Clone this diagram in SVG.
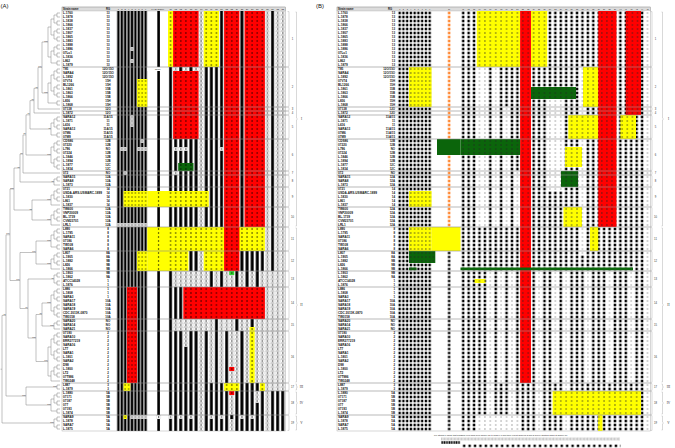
<svg xmlns="http://www.w3.org/2000/svg" width="675" height="448" viewBox="0 0 675 448">
<style>
.nm{font-family:"Liberation Sans",Arial,sans-serif;font-size:3.1px;font-weight:bold;fill:#111}
.rg{font-family:"Liberation Sans",Arial,sans-serif;font-size:2.9px;font-weight:bold;fill:#111}
.hd{font-family:"Liberation Sans",Arial,sans-serif;font-size:2.7px;font-weight:bold;fill:#111}
.hn{font-family:"Liberation Sans",Arial,sans-serif;font-size:2.2px;fill:#111}
.hb{font-family:"Liberation Sans",Arial,sans-serif;font-size:1.9px;fill:#111}
.bs{font-family:"Liberation Sans",Arial,sans-serif;font-size:2px;fill:#333}
.lb{font-family:"Liberation Sans",Arial,sans-serif;font-size:2.7px;fill:#333}
.rm{font-family:"Liberation Serif",serif;font-size:3.4px;fill:#333}
.pl{font-family:"Liberation Sans",Arial,sans-serif;font-size:6px;fill:#111}
.ft{font-family:"Liberation Sans",Arial,sans-serif;font-size:2.2px;fill:#222}
.tree{fill:none;stroke:#777;stroke-width:0.45}
.sep{fill:none;stroke:#8a8a8a;stroke-width:0.6}
.brk{fill:none;stroke:#aaa;stroke-width:0.45}
.hdr{fill:#dcdcdc;stroke:#999;stroke-width:0.3}
.bdr{fill:none;stroke:#999;stroke-width:0.4}
</style>
<defs>
<pattern id="a1" x="116.7" y="11" width="3.4" height="4" patternUnits="userSpaceOnUse"><rect x="0.5" width="2.4" height="4"/></pattern>
<pattern id="a2" x="168" y="11" width="5.1" height="4" patternUnits="userSpaceOnUse"><rect x="1.1" width="2.9" height="4"/></pattern>
<pattern id="w1" x="116.7" y="11" width="3.4" height="4" patternUnits="userSpaceOnUse"><rect x="0.2" y="0.2" width="3" height="3.6" fill="#fff" stroke="#c4c4c4" stroke-width="0.3"/><rect x="1.2" y="1.5" width="1" height="1"/></pattern>
<pattern id="w2" x="168" y="11" width="5.1" height="4" patternUnits="userSpaceOnUse"><rect x="0.2" y="0.2" width="4.7" height="3.6" fill="#fff" stroke="#c4c4c4" stroke-width="0.3"/><rect x="2" y="1.4" width="1.1" height="1.2"/></pattern>
<pattern id="r1" x="116.7" y="11" width="3.4" height="4" patternUnits="userSpaceOnUse"><rect width="3.4" height="4" fill="#f00"/><rect x="1.2" y="1.5" width="1" height="1"/></pattern>
<pattern id="y1" x="116.7" y="11" width="3.4" height="4" patternUnits="userSpaceOnUse"><rect width="3.4" height="4" fill="#ff0"/><rect x="1.2" y="1.5" width="1" height="1"/></pattern>
<pattern id="r2" x="168" y="11" width="5.1" height="4" patternUnits="userSpaceOnUse"><rect width="5.1" height="4" fill="#f00"/><rect x="2" y="1.4" width="1.1" height="1.2"/></pattern>
<pattern id="y2" x="168" y="11" width="5.1" height="4" patternUnits="userSpaceOnUse"><rect width="5.1" height="4" fill="#ff0"/><rect x="2" y="1.4" width="1.1" height="1.2"/></pattern>
<pattern id="g2" x="168" y="11" width="5.1" height="4" patternUnits="userSpaceOnUse"><rect width="5.1" height="4" fill="#0b650b"/><rect x="2" y="1.4" width="1.1" height="1.2"/></pattern>
<pattern id="g2b" x="168" y="11" width="5.1" height="4" patternUnits="userSpaceOnUse"><rect width="5.1" height="4" fill="#33d633"/><rect x="2" y="1.4" width="1.1" height="1.2"/></pattern>
<pattern id="d74" x="147.3" y="11" width="20.7" height="4" patternUnits="userSpaceOnUse"><rect x="10.75" y="1.4" width="1.1" height="1.2"/></pattern>
<pattern id="b1" x="397.8" y="11" width="3.75" height="4" patternUnits="userSpaceOnUse"><rect x="0.7" y="0.7" width="2.3" height="2.6"/></pattern>
<pattern id="bo" x="447.6" y="11" width="3" height="4" patternUnits="userSpaceOnUse"><rect x="0.5" y="0.7" width="2" height="2.6" fill="#ff6a00"/></pattern>
<pattern id="bk" x="447.6" y="11" width="3" height="4" patternUnits="userSpaceOnUse"><rect x="0.4" y="0.7" width="2.2" height="2.6"/></pattern>
<pattern id="b2" x="460.5" y="11" width="5.42" height="4" patternUnits="userSpaceOnUse"><rect x="1.5" y="0.7" width="2.4" height="2.6"/></pattern>
<pattern id="bd" x="460.5" y="11" width="5.42" height="4" patternUnits="userSpaceOnUse"><rect width="5.42" height="4" fill="#fff"/><rect x="2.3" y="1.6" width="0.8" height="0.8"/></pattern>
<pattern id="rB" x="460.5" y="11" width="5.42" height="4" patternUnits="userSpaceOnUse"><rect width="5.42" height="4" fill="#f00"/><rect x="2.2" y="1.4" width="1" height="1.2" fill="#222"/></pattern>
<pattern id="yB" x="460.5" y="11" width="5.42" height="4" patternUnits="userSpaceOnUse"><rect width="5.42" height="4" fill="#ff0"/><rect x="2.2" y="1.4" width="1" height="1.2" fill="#222"/></pattern>
<pattern id="gB" x="460.5" y="11" width="5.42" height="4" patternUnits="userSpaceOnUse"><rect width="5.42" height="4" fill="#0b650b"/><rect x="2.2" y="1.4" width="1" height="1.2" fill="#222"/></pattern>
<pattern id="rBb" x="599.3" y="11" width="5.1" height="4" patternUnits="userSpaceOnUse"><rect width="5.1" height="4" fill="#f00"/><rect x="2" y="1.4" width="1" height="1.2" fill="#222"/></pattern>
<pattern id="yBb" x="599.3" y="11" width="5.1" height="4" patternUnits="userSpaceOnUse"><rect width="5.1" height="4" fill="#ff0"/><rect x="2" y="1.4" width="1" height="1.2" fill="#222"/></pattern>
<pattern id="yB1" x="397.8" y="11" width="3.75" height="4" patternUnits="userSpaceOnUse"><rect width="3.75" height="4" fill="#ff0"/><rect x="1.3" y="1.4" width="1" height="1.2" fill="#222"/></pattern>
<pattern id="gB1" x="397.8" y="11" width="3.75" height="4" patternUnits="userSpaceOnUse"><rect width="3.75" height="4" fill="#0b650b"/><rect x="1.3" y="1.4" width="1" height="1.2" fill="#222"/></pattern>
<pattern id="lgg" x="441" y="437.6" width="3.4" height="2.8" patternUnits="userSpaceOnUse"><rect x="0.15" y="0.15" width="3.1" height="2.5" fill="#eee" stroke="#999" stroke-width="0.3"/></pattern>
<pattern id="lgd" x="441" y="441.2" width="2.4" height="2.6" patternUnits="userSpaceOnUse"><rect x="0.4" width="1.6" height="2.6"/></pattern>
<pattern id="lgs" x="461.5" y="444.6" width="5.42" height="2.6" patternUnits="userSpaceOnUse"><rect x="1.5" width="2.4" height="2.4"/></pattern>
</defs>
<rect width="675" height="448" fill="#fff"/>
<text class="pl" x="0.5" y="7.5">(A)</text>
<text class="pl" x="316" y="7.5">(B)</text>

<g id="tree" class="tree">
<path d="M60 13H57V17H60M60 21H57V25H60M60 29H57V33H60M60 37H57V41H60M60 45H57V49H60M60 53H57V57H60M60 61H57V65H60M57 15H54V23H57M57 31H54V39H57M57 47H54V55H57M54 19H51V35H54M54 51H51V63H57M51 27H48V57H51"/>
<path d="M60 69H57V73H60M60 77H57V81H60M60 85H57V89H60M60 93H57V97H60M60 101H57V105H60M57 71H54V79H57M57 87H54V95H57M54 75H51V91H54M51 83H48V103H57"/>
<path d="M60 117H57V121H60M60 125H57V129H60M60 133H57V137H60M57 119H54V127H57M54 123H51V135H57"/>
<path d="M60 141H57V145H60M60 149H57V153H60M60 157H57V161H60M60 165H57V169H60M57 143H54V151H57M57 159H54V167H57M54 147H51V163H54"/>
<path d="M60 177H57V181H60M57 179H54V185H60"/>
<path d="M60 189H57V193H60M60 197H57V201H60M57 191H54V199H57M54 195H51V205H60"/>
<path d="M60 209H57V213H60M60 217H57V221H60M57 211H54V219H57M54 215H51V225H60"/>
<path d="M60 229H57V233H60M60 237H57V241H60M60 245H57V249H60M57 231H54V239H57M54 235H51V247H57"/>
<path d="M60 253H57V257H60M60 261H57V265H60M57 255H54V263H57M54 259H51V269H60"/>
<path d="M60 273H57V277H60M60 281H57V285H60M57 275H54V283H57"/>
<path d="M60 289H57V293H60M60 297H57V301H60M60 305H57V309H60M60 313H57V317H60M57 291H54V299H57M57 307H54V315H57M54 295H51V311H54"/>
<path d="M60 321H57V325H60M57 323H54V329H60"/>
<path d="M60 333H57V337H60M60 341H57V345H60M60 349H57V353H60M60 357H57V361H60M60 365H57V369H60M60 373H57V377H60M57 335H54V343H57M57 351H54V359H57M57 367H54V375H57M54 339H51V355H54M54 371H51V381H60M51 347H48V376H51"/>
<path d="M60 385H57V389H60"/>
<path d="M60 393H57V397H60M60 401H57V405H60M60 409H57V413H60M57 395H54V403H57M54 399H51V411H57"/>
<path d="M60 417H57V421H60M60 425H57V429H60M57 419H54V427H57"/>
<path d="M48 42H42V93H48M42 67.5H38V109H60M38 88.25H34V113H60M34 100.6H30V129H51M30 114.8H26V155H51M26 134.9H23V173H60M23 154H20V182H54M51 200H32V220H51M20 168H14V210H32"/>
<path d="M51 241H36V264H51M51 303H42V326H54M42 314.5H36V361.5H48M54 279H28V338H36M36 252.5H20V308.5H28"/>
<path d="M14 189H10V280.5H20M57 387H26V405H51M10 234.75H6V396H26M6 315.4H2V423H54M2 369.2H0.5"/>
</g>
<text class="bs" text-anchor="end"><tspan x="47.7" y="41.5">100</tspan><tspan x="47.7" y="92.5">100</tspan><tspan x="50.7" y="128.5">99</tspan><tspan x="50.7" y="154.5">100</tspan><tspan x="53.7" y="181.5">93</tspan><tspan x="50.7" y="199.5">100</tspan><tspan x="50.7" y="219.5">100</tspan><tspan x="50.7" y="240.5">100</tspan><tspan x="50.7" y="263.5">100</tspan><tspan x="53.7" y="278.5">97</tspan><tspan x="50.7" y="302.5">100</tspan><tspan x="53.7" y="325.5">100</tspan><tspan x="47.7" y="361">100</tspan><tspan x="56.7" y="386.5">100</tspan><tspan x="50.7" y="404.5">100</tspan><tspan x="53.7" y="422.5">100</tspan><tspan x="41.7" y="67">100</tspan><tspan x="37.7" y="87.8">76</tspan><tspan x="33.7" y="100.1">98</tspan><tspan x="29.7" y="114.3">71</tspan><tspan x="25.7" y="134.4">81</tspan><tspan x="22.7" y="153.5">64</tspan><tspan x="19.7" y="167.5">99</tspan><tspan x="31.7" y="209.5">92</tspan><tspan x="13.7" y="188.5">100</tspan><tspan x="35.7" y="252">100</tspan><tspan x="41.7" y="314">98</tspan><tspan x="35.7" y="337.5">100</tspan><tspan x="27.7" y="308">84</tspan><tspan x="19.7" y="280">100</tspan><tspan x="9.7" y="234.3">100</tspan><tspan x="25.7" y="395.5">100</tspan><tspan x="5.7" y="315">71</tspan></text>

<g id="tableA">
<rect class="hdr" x="62" y="7" width="223.5" height="4"/>
<rect x="116.7" y="11" width="30.6" height="420" fill="url(#a1)"/>
<rect x="157.3" y="11" width="2.6" height="420"/>
<rect x="168" y="11" width="117.3" height="420" fill="url(#a2)"/>
<path fill="url(#w2)" d="M198.6 11h5.1v420h-5.1zM264.9 11h5.1v420h-5.1zM275.1 11h10.2v380h-10.2zM270 271h5.1v120h-5.1zM173.1 67h5.1v4h-5.1zM183.3 67h5.1v4h-5.1zM193.5 67h5.1v4h-5.1zM173.1 147h15.3v4h-15.3zM219 147h5.1v4h-5.1zM173.1 171h5.1v4h-5.1zM173.1 271h35.7v16h-35.7zM213.9 271h5.1v16h-5.1zM224.1 271h10.2v16h-10.2zM239.4 271h5.1v16h-5.1zM249.6 271h5.1v16h-5.1zM259.8 271h5.1v16h-5.1zM173.1 319h40.8v12h-40.8zM219 319h15.3v12h-15.3zM239.4 319h10.2v12h-10.2zM254.7 319h10.2v12h-10.2zM183.3 331h5.1v16h-5.1zM208.8 331h5.1v52h-5.1zM219 331h5.1v52h-5.1zM229.2 331h10.2v52h-10.2zM244.5 331h5.1v52h-5.1zM254.7 331h10.2v52h-10.2zM229.2 395h5.1v20h-5.1zM254.7 391h5.1v12h-5.1zM168 415h5.1v4h-5.1zM178.2 415h5.1v4h-5.1zM188.4 415h5.1v4h-5.1zM208.8 415h5.1v4h-5.1zM219 415h5.1v4h-5.1zM239.4 415h5.1v4h-5.1zM249.6 415h5.1v4h-5.1zM229.2 419h5.1v12h-5.1z"/>
<path fill="url(#w1)" d="M130.3 47h3.4v4h-3.4zM130.3 59h3.4v4h-3.4zM130.3 115h3.4v12h-3.4zM140.5 139h3.4v4h-3.4zM120.1 147h6.8v4h-6.8zM137.1 147h10.2v4h-10.2zM123.5 171h3.4v4h-3.4zM116.7 223h30.6v4h-30.6zM130.3 415h17v4h-17z"/>
<rect x="147.3" y="67" width="20.7" height="4" fill="#fff"/>
<text class="hn" x="157.7" y="70" text-anchor="middle">52 bp</text>
<rect x="147.3" y="415" width="20.7" height="4" fill="#fff"/>
<rect x="156.2" y="415.2" width="4.7" height="3.6" fill="#fff" stroke="#c4c4c4" stroke-width="0.3"/><rect x="158.1" y="416.4" width="1.1" height="1.2"/>
<path fill="url(#y2)" d="M168 11h5.1v56h-5.1zM203.7 11h15.3v56h-15.3zM168 191h40.8v16h-40.8zM168 227h96.9v24h-96.9zM168 251h20.4v20h-20.4zM203.7 251h20.4v20h-20.4zM249.6 327h5.1v56h-5.1zM224.1 383h15.3v8h-15.3zM259.8 383h5.1v8h-5.1z"/>
<path fill="url(#y1)" d="M137.1 79h10.2v28h-10.2zM123.5 191h23.8v16h-23.8zM137.1 251h10.2v20h-10.2zM123.5 383h6.8v8h-6.8zM123.5 415h3.4v4h-3.4z"/>
<path fill="#ff0" d="M147.3 191h20.7v16h-20.7zM147.3 227h20.7v44h-20.7z"/>
<path fill="url(#d74)" d="M147.3 191h20.7v16h-20.7zM147.3 227h20.7v44h-20.7z"/>
<path fill="url(#r2)" d="M173.1 11h25.5v56h-25.5zM173.1 71h25.5v68h-25.5zM224.1 11h15.3v260h-15.3zM244.5 11h20.4v216h-20.4zM183.3 287h81.6v32h-81.6zM229.2 367h5.1v4h-5.1zM229.2 391h5.1v4h-5.1z"/>
<path fill="url(#r1)" d="M126.9 287h10.2v96h-10.2z"/>
<path fill="url(#g2)" d="M178.2 163h15.3v8h-15.3z"/>
<path fill="url(#g2b)" d="M229.2 271h5.1v4h-5.1z"/>
<path class="sep" d="M62 67H287.5M62 107H287.5M62 111H287.5M62 115H287.5M62 139H287.5M62 171H287.5M62 175H287.5M62 187H287.5M62 207H287.5M62 227H287.5M62 251H287.5M62 271H287.5M62 287H287.5M62 319H287.5M62 331H287.5M62 383H287.5M62 391H287.5M62 415H287.5"/>
<rect class="bdr" x="62" y="7" width="223.5" height="424"/>
<text class="hd" x="63" y="10.1">Strain name</text>
<text class="hd" x="108" y="10.1" text-anchor="middle">RG</text>
<text class="hn" y="10.1" text-anchor="middle"><tspan x="118.4">1</tspan><tspan x="121.8">2</tspan><tspan x="125.2">3</tspan><tspan x="128.6">4</tspan><tspan x="132">5</tspan><tspan x="135.4">6</tspan><tspan x="138.8">7</tspan><tspan x="142.2">8</tspan><tspan x="145.6">9</tspan><tspan x="157.7">74 bp spacer</tspan><tspan x="170.55">11</tspan><tspan x="175.65">12</tspan><tspan x="180.75">13</tspan><tspan x="185.85">14</tspan><tspan x="190.95">15</tspan><tspan x="196.05">16</tspan><tspan x="201.15">17</tspan><tspan x="206.25">18</tspan><tspan x="211.35">19</tspan><tspan x="216.45">20</tspan><tspan x="221.55">21</tspan><tspan x="226.65">22</tspan><tspan x="231.75">23</tspan><tspan x="236.85">24</tspan><tspan x="241.95">25</tspan><tspan x="247.05">26</tspan><tspan x="252.15">27</tspan><tspan x="257.25">28</tspan><tspan x="262.35">29</tspan><tspan x="267.45">30</tspan><tspan x="272.55">31</tspan><tspan x="277.65">32</tspan><tspan x="282.75">33</tspan></text>
<text class="nm"><tspan x="63" y="14.2">L.1760</tspan><tspan x="63" dy="4">L.1878</tspan><tspan x="63" dy="4">L.1838</tspan><tspan x="63" dy="4">L.1866</tspan><tspan x="63" dy="4">L.1837</tspan><tspan x="63" dy="4">L.1907</tspan><tspan x="63" dy="4">L.1865</tspan><tspan x="63" dy="4">L.1883</tspan><tspan x="63" dy="4">L.1888</tspan><tspan x="63" dy="4">L.1886</tspan><tspan x="63" dy="4">07Lu1</tspan><tspan x="63" dy="4">L.1836</tspan><tspan x="63" dy="4">L862</tspan><tspan x="63" dy="4">L.1879</tspan><tspan x="63" dy="4">T85</tspan><tspan x="63" dy="4">SARA4</tspan><tspan x="63" dy="4">L.1892</tspan><tspan x="63" dy="4">07V74</tspan><tspan x="63" dy="4">BL1266</tspan><tspan x="63" dy="4">L.1861</tspan><tspan x="63" dy="4">L.1863</tspan><tspan x="63" dy="4">L.1866</tspan><tspan x="63" dy="4">L836</tspan><tspan x="63" dy="4">L.1868</tspan><tspan x="63" dy="4">07138</tspan><tspan x="63" dy="4">L.1872</tspan><tspan x="63" dy="4">SARA12</tspan><tspan x="63" dy="4">L.1871</tspan><tspan x="63" dy="4">L616</tspan><tspan x="63" dy="4">SARA13</tspan><tspan x="63" dy="4">07M6</tspan><tspan x="63" dy="4">07M9</tspan><tspan x="63" dy="4">CDS86</tspan><tspan x="63" dy="4">07220</tspan><tspan x="63" dy="4">L796</tspan><tspan x="63" dy="4">07224</tspan><tspan x="63" dy="4">L.1846</tspan><tspan x="63" dy="4">L.1894</tspan><tspan x="63" dy="4">L.1877</tspan><tspan x="63" dy="4">L.1834</tspan><tspan x="63" dy="4">072</tspan><tspan x="63" dy="4">SARA15</tspan><tspan x="63" dy="4">SARA8</tspan><tspan x="63" dy="4">L.1873</tspan><tspan x="63" dy="4">0721</tspan><tspan x="63" dy="4">USDA-ARS-USMARC-1899</tspan><tspan x="63" dy="4">L.1830</tspan><tspan x="63" dy="4">L861</tspan><tspan x="63" dy="4">L.1837</tspan><tspan x="63" dy="4">TW600</tspan><tspan x="63" dy="4">VNP20009</tspan><tspan x="63" dy="4">BL-1739</tspan><tspan x="63" dy="4">CVM23701</tspan><tspan x="63" dy="4">LRL1</tspan><tspan x="63" dy="4">L890</tspan><tspan x="63" dy="4">L.1795</tspan><tspan x="63" dy="4">SARA11</tspan><tspan x="63" dy="4">07186</tspan><tspan x="63" dy="4">TW108</tspan><tspan x="63" dy="4">SARA6</tspan><tspan x="63" dy="4">L807</tspan><tspan x="63" dy="4">L.1905</tspan><tspan x="63" dy="4">L.1882</tspan><tspan x="63" dy="4">L826</tspan><tspan x="63" dy="4">L.1866</tspan><tspan x="63" dy="4">L.1903</tspan><tspan x="63" dy="4">L.1862</tspan><tspan x="63" dy="4">ATCC14028</tspan><tspan x="63" dy="4">L.1876</tspan><tspan x="63" dy="4">L886</tspan><tspan x="63" dy="4">L.1808</tspan><tspan x="63" dy="4">SARA3</tspan><tspan x="63" dy="4">SARA17</tspan><tspan x="63" dy="4">SARA18</tspan><tspan x="63" dy="4">SARA19</tspan><tspan x="63" dy="4">CDC 2011K-0870</tspan><tspan x="63" dy="4">TW0158</tspan><tspan x="63" dy="4">SARA20</tspan><tspan x="63" dy="4">SARA14</tspan><tspan x="63" dy="4">SARA21</tspan><tspan x="63" dy="4">07190</tspan><tspan x="63" dy="4">SARA10</tspan><tspan x="63" dy="4">ERR277219</tspan><tspan x="63" dy="4">SARA16</tspan><tspan x="63" dy="4">LT7</tspan><tspan x="63" dy="4">SARA1</tspan><tspan x="63" dy="4">L.1801</tspan><tspan x="63" dy="4">SARA2</tspan><tspan x="63" dy="4">D98</tspan><tspan x="63" dy="4">L.1800</tspan><tspan x="63" dy="4">LT2</tspan><tspan x="63" dy="4">07T986</tspan><tspan x="63" dy="4">TW0248</tspan><tspan x="63" dy="4">L887</tspan><tspan x="63" dy="4">L.1879</tspan><tspan x="63" dy="4">L.1880</tspan><tspan x="63" dy="4">07171</tspan><tspan x="63" dy="4">07187</tspan><tspan x="63" dy="4">077</tspan><tspan x="63" dy="4">07193</tspan><tspan x="63" dy="4">L.1874</tspan><tspan x="63" dy="4">SARA9</tspan><tspan x="63" dy="4">L.1878</tspan><tspan x="63" dy="4">SARA7</tspan><tspan x="63" dy="4">L.1875</tspan></text>
<text class="rg" text-anchor="middle"><tspan x="108" y="14.2">13</tspan><tspan x="108" dy="4">13</tspan><tspan x="108" dy="4">13</tspan><tspan x="108" dy="4">13</tspan><tspan x="108" dy="4">13</tspan><tspan x="108" dy="4">13</tspan><tspan x="108" dy="4">13</tspan><tspan x="108" dy="4">13</tspan><tspan x="108" dy="4">13</tspan><tspan x="108" dy="4">13</tspan><tspan x="108" dy="4">13</tspan><tspan x="108" dy="4">13</tspan><tspan x="108" dy="4">13</tspan><tspan x="108" dy="4">13</tspan><tspan x="108" dy="4">12O/15O</tspan><tspan x="108" dy="4">12O/15O</tspan><tspan x="108" dy="4">12O/15O</tspan><tspan x="108" dy="4">15H</tspan><tspan x="108" dy="4">15H</tspan><tspan x="108" dy="4">15B</tspan><tspan x="108" dy="4">15B</tspan><tspan x="108" dy="4">15B</tspan><tspan x="108" dy="4">15H</tspan><tspan x="108" dy="4">15H</tspan><tspan x="108" dy="4">12O</tspan><tspan x="108" dy="4">12O</tspan><tspan x="108" dy="4">11A/15</tspan><tspan x="108" dy="4">11</tspan><tspan x="108" dy="4">11</tspan><tspan x="108" dy="4">11A/15</tspan><tspan x="108" dy="4">11A/15</tspan><tspan x="108" dy="4">11A/15</tspan><tspan x="108" dy="4">12B</tspan><tspan x="108" dy="4">12B</tspan><tspan x="108" dy="4">NO</tspan><tspan x="108" dy="4">12B</tspan><tspan x="108" dy="4">12B</tspan><tspan x="108" dy="4">12B</tspan><tspan x="108" dy="4">12C</tspan><tspan x="108" dy="4">12C</tspan><tspan x="108" dy="4">NO</tspan><tspan x="108" dy="4">12A</tspan><tspan x="108" dy="4">12A</tspan><tspan x="108" dy="4">12A</tspan><tspan x="108" dy="4">14</tspan><tspan x="108" dy="4">14</tspan><tspan x="108" dy="4">14</tspan><tspan x="108" dy="4">14</tspan><tspan x="108" dy="4">14</tspan><tspan x="108" dy="4">12A</tspan><tspan x="108" dy="4">12A</tspan><tspan x="108" dy="4">12A</tspan><tspan x="108" dy="4">12A</tspan><tspan x="108" dy="4">12A</tspan><tspan x="108" dy="4">8</tspan><tspan x="108" dy="4">8</tspan><tspan x="108" dy="4">8</tspan><tspan x="108" dy="4">8</tspan><tspan x="108" dy="4">8</tspan><tspan x="108" dy="4">8</tspan><tspan x="108" dy="4">8A</tspan><tspan x="108" dy="4">8A</tspan><tspan x="108" dy="4">9B</tspan><tspan x="108" dy="4">9B</tspan><tspan x="108" dy="4">9B</tspan><tspan x="108" dy="4">9B</tspan><tspan x="108" dy="4">9A</tspan><tspan x="108" dy="4">1</tspan><tspan x="108" dy="4">1</tspan><tspan x="108" dy="4">1</tspan><tspan x="108" dy="4">1</tspan><tspan x="108" dy="4">1</tspan><tspan x="108" dy="4">10A</tspan><tspan x="108" dy="4">10A</tspan><tspan x="108" dy="4">10A</tspan><tspan x="108" dy="4">10A</tspan><tspan x="108" dy="4">10A</tspan><tspan x="108" dy="4">NO</tspan><tspan x="108" dy="4">NO</tspan><tspan x="108" dy="4">NO</tspan><tspan x="108" dy="4">2</tspan><tspan x="108" dy="4">2</tspan><tspan x="108" dy="4">2</tspan><tspan x="108" dy="4">2</tspan><tspan x="108" dy="4">2</tspan><tspan x="108" dy="4">2</tspan><tspan x="108" dy="4">2</tspan><tspan x="108" dy="4">2</tspan><tspan x="108" dy="4">2</tspan><tspan x="108" dy="4">2</tspan><tspan x="108" dy="4">2</tspan><tspan x="108" dy="4">2</tspan><tspan x="108" dy="4">2</tspan><tspan x="108" dy="4">3</tspan><tspan x="108" dy="4">3</tspan><tspan x="108" dy="4">5A</tspan><tspan x="108" dy="4">5B</tspan><tspan x="108" dy="4">5B</tspan><tspan x="108" dy="4">5B</tspan><tspan x="108" dy="4">5B</tspan><tspan x="108" dy="4">5B</tspan><tspan x="108" dy="4">5A</tspan><tspan x="108" dy="4">5A</tspan><tspan x="108" dy="4">5A</tspan><tspan x="108" dy="4">5A</tspan></text>
</g>

<g id="bracketsA">
<path class="brk" d="M287.5 11.6H289V66.4H287.5M287.5 67.6H289V106.4H287.5M287.5 107.6H289V110.4H287.5M287.5 111.6H289V114.4H287.5M287.5 115.6H289V138.4H287.5M287.5 139.6H289V170.4H287.5M287.5 171.6H289V174.4H287.5M287.5 175.6H289V186.4H287.5M287.5 187.6H289V206.4H287.5M287.5 207.6H289V226.4H287.5M287.5 227.6H289V250.4H287.5M287.5 251.6H289V270.4H287.5M287.5 271.6H289V286.4H287.5M287.5 287.6H289V318.4H287.5M287.5 319.6H289V330.4H287.5M287.5 331.6H289V382.4H287.5M287.5 383.6H289V390.4H287.5M287.5 391.6H289V414.4H287.5M287.5 415.6H289V430.4H287.5"/>
<text class="lb" text-anchor="middle"><tspan x="292.5" y="39.9">1</tspan><tspan x="292.5" y="87.9">2</tspan><tspan x="292.5" y="109.9">3</tspan><tspan x="292.5" y="113.9">4</tspan><tspan x="292.5" y="127.9">5</tspan><tspan x="292.5" y="155.9">6</tspan><tspan x="292.5" y="173.9">7</tspan><tspan x="292.5" y="181.9">8</tspan><tspan x="292.5" y="197.9">9</tspan><tspan x="292.5" y="217.9">10</tspan><tspan x="292.5" y="239.9">11</tspan><tspan x="292.5" y="261.9">12</tspan><tspan x="292.5" y="279.9">13</tspan><tspan x="292.5" y="303.9">14</tspan><tspan x="292.5" y="325.9">15</tspan><tspan x="292.5" y="357.9">16</tspan><tspan x="292.5" y="387.9">17</tspan><tspan x="292.5" y="403.9">18</tspan><tspan x="292.5" y="423.9">19</tspan></text>
<path class="brk" d="M295.5 12H296.5V118.2L297.5 119L296.5 119.8V226H295.5M295.5 228H296.5V304.2L297.5 305L296.5 305.8V382H295.5M295.5 384H296.5V386.4L297.5 387L296.5 387.6V390H295.5M295.5 392H296.5V402.2L297.5 403L296.5 403.8V414H295.5M295.5 416H296.5V422.2L297.5 423L296.5 423.8V430H295.5"/>
<text class="rm" text-anchor="middle"><tspan x="301.5" y="120.2">I</tspan><tspan x="301.5" y="306.2">II</tspan><tspan x="301.5" y="388.2">III</tspan><tspan x="301.5" y="404.2">IV</tspan><tspan x="301.5" y="424.2">V</tspan></text>
</g>

<g id="tableB">
<rect class="hdr" x="337" y="7" width="313.2" height="4"/>
<rect x="397.8" y="11" width="33.75" height="420" fill="url(#b1)"/>
<rect x="447.6" y="11" width="3" height="216" fill="url(#bo)"/>
<rect x="447.6" y="227" width="3" height="204" fill="url(#bk)"/>
<rect x="460.5" y="11" width="189.7" height="420" fill="url(#b2)"/>
<path fill="url(#bd)" d="M644.78 11h5.42v420h-5.42zM476.76 67h10.84v160h-10.84zM493.02 67h5.42v160h-5.42zM503.86 107h5.42v120h-5.42zM514.7 171h5.42v56h-5.42zM547.22 99h16.26v92h-16.26zM579.74 67h5.42v188h-5.42zM487.6 271h5.42v112h-5.42zM498.44 271h5.42v112h-5.42zM509.28 271h5.42v112h-5.42zM536.38 271h5.42v112h-5.42zM552.64 271h5.42v112h-5.42zM563.48 271h5.42v112h-5.42zM585.16 271h5.42v112h-5.42zM606.84 271h5.42v112h-5.42zM628.52 271h5.42v112h-5.42zM487.6 383h5.42v48h-5.42zM509.28 383h5.42v48h-5.42zM536.38 383h5.42v48h-5.42zM563.48 383h5.42v48h-5.42zM476.76 415h43.36v16h-43.36z"/>
<path fill="url(#yB)" d="M476.76 11h43.36v56h-43.36zM530.96 11h16.26v56h-16.26zM583 67h15.3v40h-15.3zM568.3 115h30v24h-30zM565 147h17v20h-17zM563.48 207h18.5v20h-18.5zM590 227h8.3v24h-8.3zM474.5 279h11v4h-11zM552.64 391h88.4v24h-88.4zM598 415h4.5v16h-4.5z"/>
<path fill="url(#yBb)" d="M620.5 115h15.5v24h-15.5z"/>
<path fill="url(#yB1)" d="M409.05 67h22.5v40h-22.5zM409.05 191h22.5v16h-22.5zM409.05 227h22.5v24h-22.5z"/>
<path fill="#ff0" d="M431.55 227h28.95v24h-28.95z"/>
<path fill="url(#rB)" d="M520.12 11h10.84v372h-10.84z"/>
<path fill="url(#rBb)" d="M598.3 11h18.2v216h-18.2zM625.7 11h15.3v104h-15.3z"/>
<path fill="url(#gB)" d="M531 87h45v12h-45zM460.5 139h59.62v16h-59.62zM561 171h17v16h-17z"/>
<path fill="#0b650b" d="M437 139h23.5v16h-23.5zM460.5 267.6h172.5v2.6h-172.5z"/>
<path fill="url(#gB1)" d="M409.05 251h26.25v12h-26.25zM409.05 267.6h7.5v2.6h-7.5z"/>
<path class="sep" d="M337 67H650.5M337 107H650.5M337 111H650.5M337 115H650.5M337 139H650.5M337 171H650.5M337 175H650.5M337 187H650.5M337 207H650.5M337 227H650.5M337 251H650.5M337 271H650.5M337 287H650.5M337 319H650.5M337 331H650.5M337 383H650.5M337 391H650.5M337 415H650.5"/>
<rect class="bdr" x="337" y="7" width="313.2" height="424"/>
<text class="hd" x="338" y="10.1">Strain name</text>
<text class="hd" x="390" y="10.1" text-anchor="middle">RG</text>
<text class="hb" y="10" text-anchor="middle"><tspan x="399.7">1</tspan><tspan x="403.4">2</tspan><tspan x="407.2">3</tspan><tspan x="410.9">4</tspan><tspan x="414.7">5</tspan><tspan x="418.4">6</tspan><tspan x="422.2">7</tspan><tspan x="425.9">8</tspan><tspan x="429.7">9</tspan><tspan x="449.1">10</tspan><tspan x="463.2">11</tspan><tspan x="468.6">12</tspan><tspan x="474.1">13</tspan><tspan x="479.5">14</tspan><tspan x="484.9">15</tspan><tspan x="490.3">16</tspan><tspan x="495.7">17</tspan><tspan x="501.2">18</tspan><tspan x="506.6">19</tspan><tspan x="512">20</tspan><tspan x="517.4">21</tspan><tspan x="522.8">22</tspan><tspan x="528.3">23</tspan><tspan x="533.7">24</tspan><tspan x="539.1">25</tspan><tspan x="544.5">26</tspan><tspan x="549.9">27</tspan><tspan x="555.4">28</tspan><tspan x="560.8">29</tspan><tspan x="566.2">30</tspan><tspan x="571.6">31</tspan><tspan x="577">32</tspan><tspan x="582.5">33</tspan><tspan x="587.9">34</tspan><tspan x="593.3">35</tspan><tspan x="598.7">36</tspan><tspan x="604.1">37</tspan><tspan x="609.6">38</tspan><tspan x="615">39</tspan><tspan x="620.4">40</tspan><tspan x="625.8">41</tspan><tspan x="631.2">42</tspan><tspan x="636.7">43</tspan><tspan x="642.1">44</tspan><tspan x="647.5">45</tspan></text>
<text class="nm"><tspan x="338" y="14.2">L.1760</tspan><tspan x="338" dy="4">L.1878</tspan><tspan x="338" dy="4">L.1838</tspan><tspan x="338" dy="4">L.1866</tspan><tspan x="338" dy="4">L.1837</tspan><tspan x="338" dy="4">L.1907</tspan><tspan x="338" dy="4">L.1865</tspan><tspan x="338" dy="4">L.1883</tspan><tspan x="338" dy="4">L.1888</tspan><tspan x="338" dy="4">L.1886</tspan><tspan x="338" dy="4">07Lu1</tspan><tspan x="338" dy="4">L.1836</tspan><tspan x="338" dy="4">L862</tspan><tspan x="338" dy="4">L.1879</tspan><tspan x="338" dy="4">T85</tspan><tspan x="338" dy="4">SARA4</tspan><tspan x="338" dy="4">L.1892</tspan><tspan x="338" dy="4">07V74</tspan><tspan x="338" dy="4">BL1266</tspan><tspan x="338" dy="4">L.1861</tspan><tspan x="338" dy="4">L.1863</tspan><tspan x="338" dy="4">L.1866</tspan><tspan x="338" dy="4">L836</tspan><tspan x="338" dy="4">L.1868</tspan><tspan x="338" dy="4">07138</tspan><tspan x="338" dy="4">L.1872</tspan><tspan x="338" dy="4">SARA12</tspan><tspan x="338" dy="4">L.1871</tspan><tspan x="338" dy="4">L616</tspan><tspan x="338" dy="4">SARA13</tspan><tspan x="338" dy="4">07M6</tspan><tspan x="338" dy="4">07M9</tspan><tspan x="338" dy="4">CDS86</tspan><tspan x="338" dy="4">07220</tspan><tspan x="338" dy="4">L796</tspan><tspan x="338" dy="4">07224</tspan><tspan x="338" dy="4">L.1846</tspan><tspan x="338" dy="4">L.1894</tspan><tspan x="338" dy="4">L.1877</tspan><tspan x="338" dy="4">L.1834</tspan><tspan x="338" dy="4">072</tspan><tspan x="338" dy="4">SARA15</tspan><tspan x="338" dy="4">SARA8</tspan><tspan x="338" dy="4">L.1873</tspan><tspan x="338" dy="4">0721</tspan><tspan x="338" dy="4">USDA-ARS-USMARC-1899</tspan><tspan x="338" dy="4">L.1830</tspan><tspan x="338" dy="4">L861</tspan><tspan x="338" dy="4">L.1837</tspan><tspan x="338" dy="4">TW600</tspan><tspan x="338" dy="4">VNP20009</tspan><tspan x="338" dy="4">BL-1739</tspan><tspan x="338" dy="4">CVM23701</tspan><tspan x="338" dy="4">LRL1</tspan><tspan x="338" dy="4">L890</tspan><tspan x="338" dy="4">L.1795</tspan><tspan x="338" dy="4">SARA11</tspan><tspan x="338" dy="4">07186</tspan><tspan x="338" dy="4">TW108</tspan><tspan x="338" dy="4">SARA6</tspan><tspan x="338" dy="4">L807</tspan><tspan x="338" dy="4">L.1905</tspan><tspan x="338" dy="4">L.1882</tspan><tspan x="338" dy="4">L826</tspan><tspan x="338" dy="4">L.1866</tspan><tspan x="338" dy="4">L.1903</tspan><tspan x="338" dy="4">L.1862</tspan><tspan x="338" dy="4">ATCC14028</tspan><tspan x="338" dy="4">L.1876</tspan><tspan x="338" dy="4">L886</tspan><tspan x="338" dy="4">L.1808</tspan><tspan x="338" dy="4">SARA3</tspan><tspan x="338" dy="4">SARA17</tspan><tspan x="338" dy="4">SARA18</tspan><tspan x="338" dy="4">SARA19</tspan><tspan x="338" dy="4">CDC 2011K-0870</tspan><tspan x="338" dy="4">TW0158</tspan><tspan x="338" dy="4">SARA20</tspan><tspan x="338" dy="4">SARA14</tspan><tspan x="338" dy="4">SARA21</tspan><tspan x="338" dy="4">07190</tspan><tspan x="338" dy="4">SARA10</tspan><tspan x="338" dy="4">ERR277219</tspan><tspan x="338" dy="4">SARA16</tspan><tspan x="338" dy="4">LT7</tspan><tspan x="338" dy="4">SARA1</tspan><tspan x="338" dy="4">L.1801</tspan><tspan x="338" dy="4">SARA2</tspan><tspan x="338" dy="4">D98</tspan><tspan x="338" dy="4">L.1800</tspan><tspan x="338" dy="4">LT2</tspan><tspan x="338" dy="4">07T986</tspan><tspan x="338" dy="4">TW0248</tspan><tspan x="338" dy="4">L887</tspan><tspan x="338" dy="4">L.1879</tspan><tspan x="338" dy="4">L.1880</tspan><tspan x="338" dy="4">07171</tspan><tspan x="338" dy="4">07187</tspan><tspan x="338" dy="4">077</tspan><tspan x="338" dy="4">07193</tspan><tspan x="338" dy="4">L.1874</tspan><tspan x="338" dy="4">SARA9</tspan><tspan x="338" dy="4">L.1878</tspan><tspan x="338" dy="4">SARA7</tspan><tspan x="338" dy="4">L.1875</tspan></text>
<text class="rg" text-anchor="end"><tspan x="395" y="14.2">13</tspan><tspan x="395" dy="4">13</tspan><tspan x="395" dy="4">13</tspan><tspan x="395" dy="4">13</tspan><tspan x="395" dy="4">13</tspan><tspan x="395" dy="4">13</tspan><tspan x="395" dy="4">13</tspan><tspan x="395" dy="4">13</tspan><tspan x="395" dy="4">13</tspan><tspan x="395" dy="4">13</tspan><tspan x="395" dy="4">13</tspan><tspan x="395" dy="4">13</tspan><tspan x="395" dy="4">13</tspan><tspan x="395" dy="4">13</tspan><tspan x="395" dy="4">12O/15O</tspan><tspan x="395" dy="4">12O/15O</tspan><tspan x="395" dy="4">12O/15O</tspan><tspan x="395" dy="4">15H</tspan><tspan x="395" dy="4">15H</tspan><tspan x="395" dy="4">15B</tspan><tspan x="395" dy="4">15B</tspan><tspan x="395" dy="4">15B</tspan><tspan x="395" dy="4">15H</tspan><tspan x="395" dy="4">15H</tspan><tspan x="395" dy="4">12O</tspan><tspan x="395" dy="4">12O</tspan><tspan x="395" dy="4">11A/15</tspan><tspan x="395" dy="4">11</tspan><tspan x="395" dy="4">11</tspan><tspan x="395" dy="4">11A/15</tspan><tspan x="395" dy="4">11A/15</tspan><tspan x="395" dy="4">11A/15</tspan><tspan x="395" dy="4">12B</tspan><tspan x="395" dy="4">12B</tspan><tspan x="395" dy="4">NO</tspan><tspan x="395" dy="4">12B</tspan><tspan x="395" dy="4">12B</tspan><tspan x="395" dy="4">12B</tspan><tspan x="395" dy="4">12C</tspan><tspan x="395" dy="4">12C</tspan><tspan x="395" dy="4">NO</tspan><tspan x="395" dy="4">12A</tspan><tspan x="395" dy="4">12A</tspan><tspan x="395" dy="4">12A</tspan><tspan x="395" dy="4">14</tspan><tspan x="395" dy="4">14</tspan><tspan x="395" dy="4">14</tspan><tspan x="395" dy="4">14</tspan><tspan x="395" dy="4">14</tspan><tspan x="395" dy="4">12A</tspan><tspan x="395" dy="4">12A</tspan><tspan x="395" dy="4">12A</tspan><tspan x="395" dy="4">12A</tspan><tspan x="395" dy="4">12A</tspan><tspan x="395" dy="4">8</tspan><tspan x="395" dy="4">8</tspan><tspan x="395" dy="4">8</tspan><tspan x="395" dy="4">8</tspan><tspan x="395" dy="4">8</tspan><tspan x="395" dy="4">8</tspan><tspan x="395" dy="4">8A</tspan><tspan x="395" dy="4">8A</tspan><tspan x="395" dy="4">9B</tspan><tspan x="395" dy="4">9B</tspan><tspan x="395" dy="4">9B</tspan><tspan x="395" dy="4">9B</tspan><tspan x="395" dy="4">9A</tspan><tspan x="395" dy="4">1</tspan><tspan x="395" dy="4">1</tspan><tspan x="395" dy="4">1</tspan><tspan x="395" dy="4">1</tspan><tspan x="395" dy="4">1</tspan><tspan x="395" dy="4">10A</tspan><tspan x="395" dy="4">10A</tspan><tspan x="395" dy="4">10A</tspan><tspan x="395" dy="4">10A</tspan><tspan x="395" dy="4">10A</tspan><tspan x="395" dy="4">NO</tspan><tspan x="395" dy="4">NO</tspan><tspan x="395" dy="4">NO</tspan><tspan x="395" dy="4">2</tspan><tspan x="395" dy="4">2</tspan><tspan x="395" dy="4">2</tspan><tspan x="395" dy="4">2</tspan><tspan x="395" dy="4">2</tspan><tspan x="395" dy="4">2</tspan><tspan x="395" dy="4">2</tspan><tspan x="395" dy="4">2</tspan><tspan x="395" dy="4">2</tspan><tspan x="395" dy="4">2</tspan><tspan x="395" dy="4">2</tspan><tspan x="395" dy="4">2</tspan><tspan x="395" dy="4">2</tspan><tspan x="395" dy="4">3</tspan><tspan x="395" dy="4">3</tspan><tspan x="395" dy="4">5A</tspan><tspan x="395" dy="4">5B</tspan><tspan x="395" dy="4">5B</tspan><tspan x="395" dy="4">5B</tspan><tspan x="395" dy="4">5B</tspan><tspan x="395" dy="4">5B</tspan><tspan x="395" dy="4">5A</tspan><tspan x="395" dy="4">5A</tspan><tspan x="395" dy="4">5A</tspan><tspan x="395" dy="4">5A</tspan></text>
</g>

<g id="bracketsB">
<path class="brk" transform="translate(363 0)" d="M287.5 11.6H289V66.4H287.5M287.5 67.6H289V106.4H287.5M287.5 107.6H289V110.4H287.5M287.5 111.6H289V114.4H287.5M287.5 115.6H289V138.4H287.5M287.5 139.6H289V170.4H287.5M287.5 171.6H289V174.4H287.5M287.5 175.6H289V186.4H287.5M287.5 187.6H289V206.4H287.5M287.5 207.6H289V226.4H287.5M287.5 227.6H289V250.4H287.5M287.5 251.6H289V270.4H287.5M287.5 271.6H289V286.4H287.5M287.5 287.6H289V318.4H287.5M287.5 319.6H289V330.4H287.5M287.5 331.6H289V382.4H287.5M287.5 383.6H289V390.4H287.5M287.5 391.6H289V414.4H287.5M287.5 415.6H289V430.4H287.5"/>
<text class="lb" text-anchor="middle"><tspan x="655.5" y="39.9">1</tspan><tspan x="655.5" y="87.9">2</tspan><tspan x="655.5" y="109.9">3</tspan><tspan x="655.5" y="113.9">4</tspan><tspan x="655.5" y="127.9">5</tspan><tspan x="655.5" y="155.9">6</tspan><tspan x="655.5" y="173.9">7</tspan><tspan x="655.5" y="181.9">8</tspan><tspan x="655.5" y="197.9">9</tspan><tspan x="655.5" y="217.9">10</tspan><tspan x="655.5" y="239.9">11</tspan><tspan x="655.5" y="261.9">12</tspan><tspan x="655.5" y="279.9">13</tspan><tspan x="655.5" y="303.9">14</tspan><tspan x="655.5" y="325.9">15</tspan><tspan x="655.5" y="357.9">16</tspan><tspan x="655.5" y="387.9">17</tspan><tspan x="655.5" y="403.9">18</tspan><tspan x="655.5" y="423.9">19</tspan></text>
<path class="brk" transform="translate(366 0)" d="M295.5 12H296.5V118.2L297.5 119L296.5 119.8V226H295.5M295.5 228H296.5V304.2L297.5 305L296.5 305.8V382H295.5M295.5 384H296.5V386.4L297.5 387L296.5 387.6V390H295.5M295.5 392H296.5V402.2L297.5 403L296.5 403.8V414H295.5M295.5 416H296.5V422.2L297.5 423L296.5 423.8V430H295.5"/>
<text class="rm" text-anchor="middle"><tspan x="668.5" y="120.2">I</tspan><tspan x="668.5" y="306.2">II</tspan><tspan x="668.5" y="388.2">III</tspan><tspan x="668.5" y="404.2">IV</tspan><tspan x="668.5" y="424.2">V</tspan></text>
</g>

<g id="legendB">
<text class="ft" x="434" y="436.3">For strains L.1583, that CRISPR loop back from spacer 15 to spacer 1 and then repeat spacers 2 and 3 before starting again at spacer 16.</text>
<rect x="441" y="437.6" width="179" height="2.8" fill="url(#lgg)"/>
<rect x="441" y="441.2" width="19.2" height="2.6" fill="url(#lgd)"/>
<rect x="461.5" y="444.6" width="159" height="2.6" fill="url(#lgs)"/>
</g>
</svg>
